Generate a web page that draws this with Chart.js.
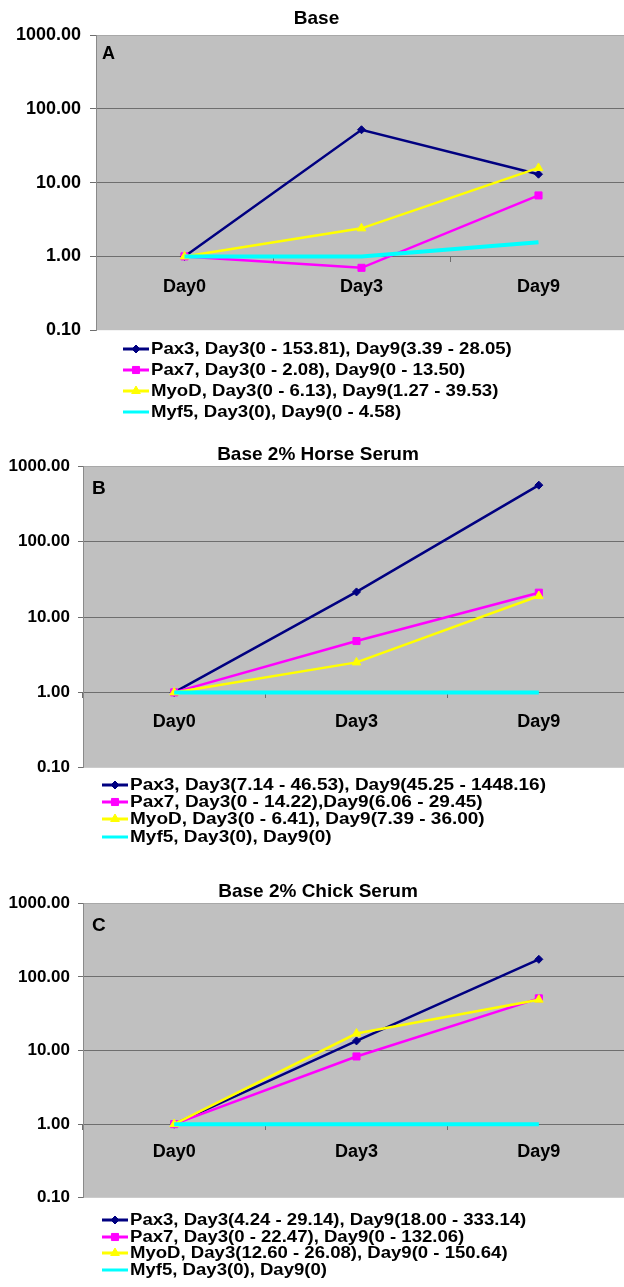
<!DOCTYPE html>
<html>
<head>
<meta charset="utf-8">
<script src="https://cdn.jsdelivr.net/npm/chart.js@4.4.1/dist/chart.umd.min.js"></script>
<style>
  html, body { margin: 0; padding: 0; background: #fff; width: 624px; height: 1287px; overflow: hidden; }
  .panel { position: absolute; left: 0; }
  .legend { position: absolute; font-family: "Liberation Sans", Arial, sans-serif; font-weight: bold; color: #000; white-space: nowrap; }
  .legend .row { display: flex; align-items: center; }
  .legend canvas { display: block; margin-right: 2px; }
  .legend span { display: inline-block; transform-origin: 0 50%; }
</style>
</head>
<body>
<div class="panel" style="top:0;width:633px;height:350px"><canvas id="chartA"></canvas></div>
<div class="legend" id="legA" style="left:123px;top:338px;font-size:17px"></div>
<div class="panel" style="top:431px;width:636px;height:355px"><canvas id="chartB"></canvas></div>
<div class="legend" id="legB" style="left:102px;top:776px;font-size:16px"></div>
<div class="panel" style="top:868px;width:636px;height:348px"><canvas id="chartC"></canvas></div>
<div class="legend" id="legC" style="left:102px;top:1212px;font-size:16px"></div>

<script>
// ---- data ----
var days = ['Day0', 'Day3', 'Day9'];
var yTicks = [0.1, 1, 10, 100, 1000];

var genes = ['Pax3', 'Pax7', 'MyoD', 'Myf5'];
var geneColors = ['#000080', '#FF00FF', '#FFFF00', '#00FFFF'];
var geneMarkers = ['rectRot', 'rect', 'triangle', false];

// Base
var basePax3 = [1, 52, 13];
var basePax7 = [1, 0.7, 6.7];
var baseMyoD = [1, 2.4, 15.8];
var baseMyf5 = [1, 1, 1.55];
var baseLegend = [
  'Pax3, Day3(0 - 153.81), Day9(3.39 - 28.05)',
  'Pax7, Day3(0 - 2.08), Day9(0 - 13.50)',
  'MyoD, Day3(0 - 6.13), Day9(1.27 - 39.53)',
  'Myf5, Day3(0), Day9(0 - 4.58)'
];

// Base 2% Horse Serum
var horsePax3 = [1, 21.5, 560];
var horsePax7 = [1, 4.8, 21];
var horseMyoD = [1, 2.5, 19];
var horseMyf5 = [1, 1, 1];
var horseLegend = [
  'Pax3, Day3(7.14 - 46.53), Day9(45.25 - 1448.16)',
  'Pax7, Day3(0 - 14.22),Day9(6.06 - 29.45)',
  'MyoD, Day3(0 - 6.41), Day9(7.39 - 36.00)',
  'Myf5, Day3(0), Day9(0)'
];

// Base 2% Chick Serum
var chickPax3 = [1, 13.5, 173];
var chickPax7 = [1, 8.3, 51];
var chickMyoD = [1, 17, 49];
var chickMyf5 = [1, 1, 1];
var chickLegend = [
  'Pax3, Day3(4.24 - 29.14), Day9(18.00 - 333.14)',
  'Pax7, Day3(0 - 22.47), Day9(0 - 132.06)',
  'MyoD, Day3(12.60 - 26.08), Day9(0 - 150.64)',
  'Myf5, Day3(0), Day9(0)'
];

var FONT = '"Liberation Sans", Arial, sans-serif';

// gray plot area + panel letter
var plotBg = {
  id: 'plotBg',
  beforeDraw: function(chart) {
    var a = chart.chartArea, ctx = chart.ctx;
    ctx.save();
    ctx.fillStyle = '#C0C0C0';
    ctx.fillRect(a.left, a.top, a.right - a.left, a.bottom - a.top);
    ctx.restore();
  },
  beforeDatasetsDraw: function(chart, args, opts) {
    if (!opts.letter) return;
    var a = chart.chartArea, ctx = chart.ctx;
    ctx.save();
    ctx.fillStyle = '#000';
    ctx.font = 'bold ' + opts.size + 'px ' + FONT;
    ctx.textBaseline = 'top';
    ctx.fillText(opts.letter, a.left + opts.dx, a.top + opts.dy);
    ctx.restore();
  }
};

function gridColor(ctx) {
  var v = ctx.tick ? ctx.tick.value : null;
  if (v === 0.1) return 'rgba(0,0,0,0)';
  if (v === 1000) return '#A8A8A8';
  return '#6E6E6E';
}

function makeDatasets(series) {
  return series.map(function(vals, i) {
    return {
      label: genes[i],
      data: vals,
      borderColor: geneColors[i],
      backgroundColor: geneColors[i],
      borderWidth: i === 3 ? 4 : 2.5,
      pointStyle: geneMarkers[i],
      pointRadius: geneMarkers[i] ? (i === 0 ? 4 : 5) : 0,
      pointBorderWidth: 1,
      pointBorderColor: geneColors[i],
      pointBackgroundColor: geneColors[i],
      tension: 0,
      order: 3 - i
    };
  });
}

function makeChart(id, title, series, cfg) {
  return new Chart(document.getElementById(id), {
    type: 'line',
    data: { labels: days, datasets: makeDatasets(series) },
    plugins: [plotBg],
    options: {
      responsive: true, maintainAspectRatio: false, animation: false,
      layout: { padding: { left: 0, right: 0, top: 0, bottom: 3 } },
      plugins: {
        legend: { display: false },
        tooltip: { enabled: false },
        title: {
          display: true, text: title, color: '#000',
          font: { family: FONT, size: 19, weight: 'bold' },
          padding: { top: cfg.titleTop, bottom: cfg.titleBottom }
        },
        plotBg: { letter: cfg.letter, size: cfg.letterSize, dx: cfg.letterDx, dy: cfg.letterDy }
      },
      scales: {
        x: {
          type: 'category', offset: true,
          position: { y: 1 },
          border: { color: '#6E6E6E', width: 1 },
          grid: { offset: true, drawOnChartArea: false, drawTicks: true, tickLength: 5, tickColor: '#6E6E6E' },
          ticks: { color: '#000', font: { family: FONT, size: 18, weight: 'bold' }, padding: cfg.dayPad, maxRotation: 0 }
        },
        y: {
          type: 'logarithmic', min: 0.1, max: 1000,
          afterBuildTicks: function(s) { s.ticks = yTicks.map(function(v) { return { value: v }; }); },
          afterFit: function(s) { s.width = cfg.axisW; },
          border: { color: '#8A8A8A', width: 1 },
          grid: { color: gridColor, lineWidth: 1, drawTicks: true, tickLength: cfg.tickLen, tickColor: '#6E6E6E' },
          ticks: {
            color: '#000', padding: cfg.tickPad,
            font: { family: FONT, size: cfg.tickSize, weight: 'bold' },
            callback: function(v) { return Number(v).toFixed(2); }
          }
        }
      }
    }
  });
}

function makeLegend(id, texts, rowH, swW, stretch) {
  var box = document.getElementById(id);
  texts.forEach(function(t, i) {
    var row = document.createElement('div');
    row.className = 'row';
    row.style.height = rowH + 'px';
    var c = document.createElement('canvas');
    c.width = swW; c.height = 12;
    var ctx = c.getContext('2d');
    ctx.strokeStyle = geneColors[i];
    ctx.fillStyle = geneColors[i];
    ctx.lineWidth = 3;
    ctx.beginPath(); ctx.moveTo(0, 6); ctx.lineTo(swW, 6); ctx.stroke();
    if (geneMarkers[i]) {
      ctx.lineWidth = 1;
      Chart.helpers.drawPoint(ctx, { pointStyle: geneMarkers[i], radius: i === 0 ? 4 : 5, borderWidth: 1, rotation: 0 }, swW / 2, 6);
    }
    row.appendChild(c);
    var span = document.createElement('span');
    span.textContent = t;
    span.style.transform = 'scaleX(' + stretch + ')';
    row.appendChild(span);
    box.appendChild(row);
  });
}

makeChart('chartA', 'Base', [basePax3, basePax7, baseMyoD, baseMyf5],
  { titleTop: 7.6, titleBottom: 4.6, axisW: 96, tickLen: 6, tickPad: 9, tickSize: 18, dayPad: 15,
    letter: 'A', letterSize: 18, letterDx: 6, letterDy: 10 });
makeChart('chartB', 'Base 2% Horse Serum', [horsePax3, horsePax7, horseMyoD, horseMyf5],
  { titleTop: 12.4, titleBottom: 0, axisW: 83, tickLen: 5, tickPad: 8, tickSize: 17, dayPad: 14,
    letter: 'B', letterSize: 19, letterDx: 9, letterDy: 13 });
makeChart('chartC', 'Base 2% Chick Serum', [chickPax3, chickPax7, chickMyoD, chickMyf5],
  { titleTop: 12.4, titleBottom: 0, axisW: 83, tickLen: 5, tickPad: 8, tickSize: 17, dayPad: 12,
    letter: 'C', letterSize: 19, letterDx: 9, letterDy: 13 });

makeLegend('legA', baseLegend, 21, 26, 1.094);
makeLegend('legB', horseLegend, 17.3, 26, 1.187);
makeLegend('legC', chickLegend, 16.5, 26, 1.16);
</script>
</body>
</html>
